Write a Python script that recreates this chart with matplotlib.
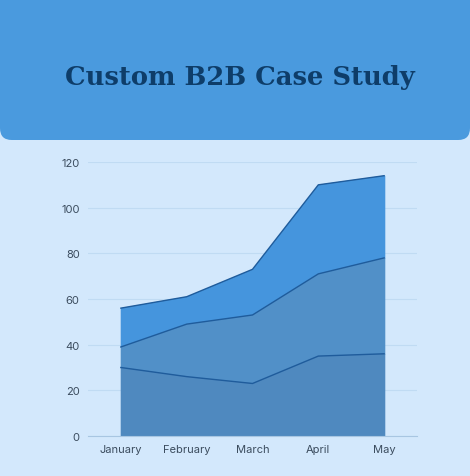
import matplotlib
matplotlib.use("Agg")
import matplotlib.pyplot as plt
from matplotlib.patches import FancyBboxPatch

months = ["January", "February", "March", "April", "May"]
series_low = [30, 26, 23, 35, 36]
series_mid = [39, 49, 53, 71, 78]
series_top = [56, 61, 73, 110, 114]
y_ticks = [0, 20, 40, 60, 80, 100, 120]

bg = "#d3e8fc"
header = "#4a9ade"
line_col = "#1f5c9c"

fig = plt.figure(figsize=(4.70, 4.77), dpi=100)
fig.patch.set_facecolor(bg)

# header band with rounded bottom corners
W, H = 470, 477
band = FancyBboxPatch((0, (H - 141) / H), 1.0, 0.5,
                      boxstyle="round,pad=0,rounding_size=0.025",
                      transform=fig.transFigure, facecolor=header,
                      edgecolor="none", zorder=0)
fig.patches.append(band)
fig.text(0.510, 1 - 77 / H, "Custom B2B Case Study", ha="center", va="center",
         fontsize=18.6, fontweight="bold", family="DejaVu Serif", color="#0e3d69")

ax = fig.add_axes([88 / W, 1 - 437 / H, (417 - 88) / W, (437 - 163) / H])
ax.set_facecolor(bg)
x = range(len(months))

ax.fill_between(x, series_mid, series_top, color="#4595dd", zorder=2)
ax.fill_between(x, series_low, series_mid, color="#5190c8", zorder=2)
ax.fill_between(x, 0, series_low, color="#4f89bf", zorder=2)
for s in (series_low, series_mid, series_top):
    ax.plot(x, s, color=line_col, linewidth=1.0, zorder=3)

ax.set_xlim(-0.5, len(months) - 0.5)
ax.set_ylim(0, 120)
ax.set_yticks(y_ticks)
ax.set_xticks(list(x))
ax.set_xticklabels(months)
ax.grid(axis="y", color="#c0dbf3", linewidth=0.8, zorder=1)
ax.set_axisbelow(True)
for side in ("top", "right", "left"):
    ax.spines[side].set_visible(False)
ax.spines["bottom"].set_color("#a8c6e2")
ax.tick_params(length=0, labelsize=8, colors="#3b4c5e", pad=6)
for lbl in ax.get_xticklabels() + ax.get_yticklabels():
    lbl.set_family("Inter")

fig.savefig("out.png", dpi=100, facecolor=bg)
